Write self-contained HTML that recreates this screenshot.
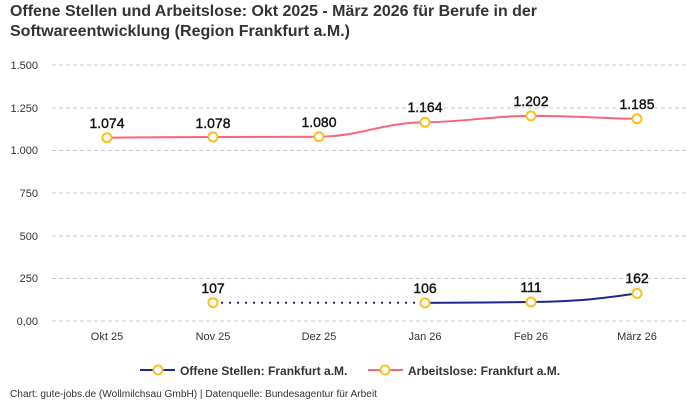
<!DOCTYPE html>
<html><head><meta charset="utf-8"><style>
body{margin:0;background:#fff;width:700px;height:400px;overflow:hidden;font-family:"Liberation Sans",sans-serif}
</style></head><body>
<svg width="700" height="400" xmlns="http://www.w3.org/2000/svg" font-family="Liberation Sans, sans-serif">
<text x="10" y="16" font-size="16" font-weight="bold" fill="#333" textLength="527" lengthAdjust="spacingAndGlyphs">Offene Stellen und Arbeitslose: Okt 2025 - März 2026 für Berufe in der</text>
<text x="10" y="36" font-size="16" font-weight="bold" fill="#333" textLength="340" lengthAdjust="spacingAndGlyphs">Softwareentwicklung (Region Frankfurt a.M.)</text>
<g stroke="#ccc" stroke-dasharray="4,3" stroke-width="1">
<line x1="52" x2="688" y1="65" y2="65"/><line x1="52" x2="688" y1="108" y2="108"/>
<line x1="52" x2="688" y1="150.5" y2="150.5"/><line x1="52" x2="688" y1="193" y2="193"/>
<line x1="52" x2="688" y1="236" y2="236"/><line x1="52" x2="688" y1="278.5" y2="278.5"/>
<line x1="52" x2="688" y1="321" y2="321"/>
</g>
<g font-size="11" fill="#333" text-anchor="end">
<text x="38" y="69">1.500</text><text x="38" y="112">1.250</text><text x="38" y="154">1.000</text>
<text x="38" y="197">750</text><text x="38" y="240">500</text><text x="38" y="282">250</text><text x="38" y="325">0,00</text>
</g>
<g font-size="11" fill="#333" text-anchor="middle">
<text x="107" y="340">Okt 25</text><text x="213" y="340">Nov 25</text><text x="319" y="340">Dez 25</text>
<text x="425" y="340">Jan 26</text><text x="531" y="340">Feb 26</text><text x="637" y="340">März 26</text>
</g>
<path d="M107,137.7 C150,137.3 170,137.2 213,137 C256,136.9 280,136.8 319,136.7 C360,136.5 380,123 425,122.3 C470,121.5 490,116 531,115.9 C575,115.8 600,118.5 637,118.8" fill="none" stroke="#f7657e" stroke-width="2"/>
<line x1="213" y1="302.7" x2="425" y2="302.7" stroke="#1a2a8c" stroke-width="2" stroke-dasharray="2,6"/>
<path d="M425,302.9 C470,302.8 490,302.5 531,302 C575,301.5 600,299 637,293.4" fill="none" stroke="#1a2a8c" stroke-width="2"/>
<g fill="#fff" stroke="#f9c21a" stroke-width="2">
<circle cx="107" cy="137.7" r="4.5"/><circle cx="213" cy="137" r="4.5"/><circle cx="319" cy="136.7" r="4.5"/>
<circle cx="425" cy="122.3" r="4.5"/><circle cx="531" cy="115.9" r="4.5"/><circle cx="637" cy="118.8" r="4.5"/>
<circle cx="213" cy="302.7" r="4.5"/><circle cx="425" cy="302.9" r="4.5"/><circle cx="531" cy="302" r="4.5"/><circle cx="637" cy="293.4" r="4.5"/>
</g>
<g font-size="14" fill="#111" stroke="#111" stroke-width="0.4" text-anchor="middle">
<text x="107" y="128">1.074</text><text x="213" y="128">1.078</text><text x="319" y="127">1.080</text>
<text x="425" y="112">1.164</text><text x="531" y="106">1.202</text><text x="637" y="109">1.185</text>
<text x="213" y="293">107</text><text x="425" y="293">106</text><text x="531" y="292">111</text><text x="637" y="283">162</text>
</g>
<line x1="140" y1="370" x2="175" y2="370" stroke="#1a2a8c" stroke-width="2"/>
<circle cx="158" cy="370" r="4.5" fill="#fff" stroke="#f9c21a" stroke-width="2"/>
<text x="180" y="375" font-size="12" font-weight="bold" fill="#333">Offene Stellen: Frankfurt a.M.</text>
<line x1="368" y1="370" x2="403" y2="370" stroke="#f7657e" stroke-width="2"/>
<circle cx="385" cy="370" r="4.5" fill="#fff" stroke="#f9c21a" stroke-width="2"/>
<text x="408" y="375" font-size="12" font-weight="bold" fill="#333">Arbeitslose: Frankfurt a.M.</text>
<text x="10" y="397" font-size="10" fill="#333" textLength="367" lengthAdjust="spacingAndGlyphs">Chart: gute-jobs.de (Wollmilchsau GmbH) | Datenquelle: Bundesagentur für Arbeit</text>
</svg>
</body></html>
